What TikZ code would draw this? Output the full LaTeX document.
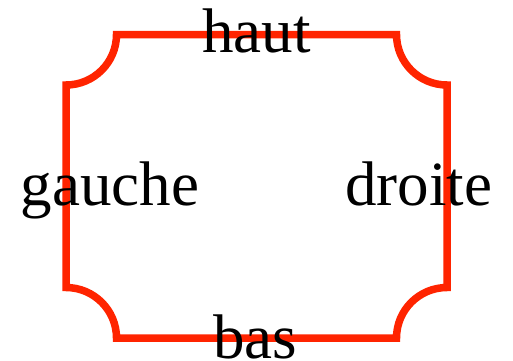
\documentclass[tikz,border=0pt]{standalone}
\usepackage{fontspec}
\setmainfont{Liberation Serif}
\definecolor{frame}{RGB}{255,36,0}
\begin{document}
\begin{tikzpicture}[x=1pt,y=1pt,
  framestyle/.style={draw=frame,line width=7.5pt},
  lbl/.style={inner sep=0pt,anchor=base,font=\fontsize{63}{70}\selectfont}]
\useasboundingbox (0,0) rectangle (513,360);
\draw[framestyle] (116.5,325.5) -- (396.5,325.5)
  arc[start angle=180,end angle=270,radius=50.5]
  -- (447,72.5)
  arc[start angle=90,end angle=180,radius=50.5]
  -- (116.5,22)
  arc[start angle=0,end angle=90,radius=50.5]
  -- (66,275)
  arc[start angle=270,end angle=360,radius=50.5]
  -- cycle;
\node[lbl] (haut) at (256.5,308) {haut};
\node[lbl] (bas) at (255,2) {bas};
\node[lbl] (gauche) at (110,155) {gauche};
\node[lbl] (droite) at (418.5,155) {droite};
\end{tikzpicture}
\end{document}
